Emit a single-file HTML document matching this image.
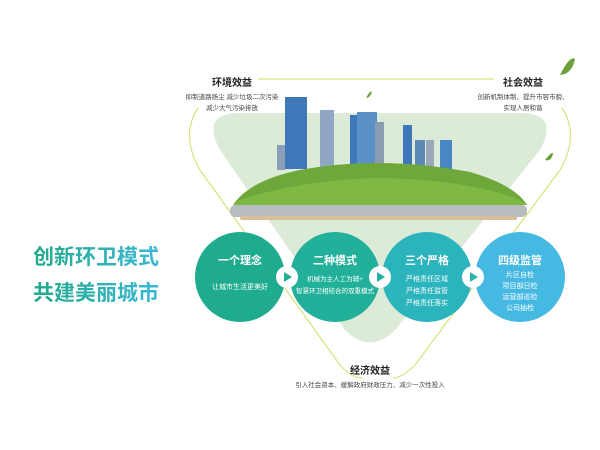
<!DOCTYPE html>
<html><head><meta charset="utf-8"><style>
body{margin:0;width:600px;height:450px;background:#fff;overflow:hidden;font-family:"Liberation Sans","Noto Sans CJK SC",sans-serif;position:relative}
.t{position:absolute;text-align:center;white-space:nowrap}
.c{position:absolute;width:90px;height:90px;border-radius:50%;color:#fff;text-align:center}
.c b{display:block;margin-top:20px;font-size:11px}
.c p{margin:6px 0 0;font-size:7px;line-height:12px;white-space:nowrap}
.big{position:absolute;left:33px;font-size:21px;font-weight:bold;background:linear-gradient(90deg,#22a98a,#3bb8d8);-webkit-background-clip:text;color:transparent;letter-spacing:0}
</style></head><body>
<svg width="600" height="450" style="position:absolute;left:0;top:0">
<path d="M240,113 L520,113 Q560,113 540,150 L395,330 Q370,355 345,330 L220,150 Q200,113 240,113Z" fill="#dcebd8"/>
<line x1="258" y1="79" x2="494" y2="79" stroke="#d5e47a" stroke-width="1.2"/>
<path d="M198,108 Q180,135 200,170 L340,365 Q352,378 362,378" fill="none" stroke="#d5e47a" stroke-width="1.2"/>
<path d="M562,108 Q580,135 560,170 L415,365 Q402,378 393,378" fill="none" stroke="#d5e47a" stroke-width="1.2"/>
<g fill="#3f78b8">
<rect x="285" y="97" width="22" height="72"/><rect x="320" y="110" width="14" height="60" fill="#8fa6c4"/>
<rect x="350" y="115" width="8" height="55"/><rect x="357" y="112" width="20" height="58" fill="#5a90c8"/>
<rect x="375" y="122" width="9" height="48" fill="#8a9cb0"/><rect x="403" y="125" width="9" height="45"/>
<rect x="415" y="140" width="10" height="30" fill="#5b88b4"/><rect x="426" y="140" width="8" height="30" fill="#9aa8b8"/>
<rect x="440" y="140" width="12" height="30" fill="#4a86c4"/><rect x="277" y="145" width="8" height="25" fill="#8aa0b8"/>
</g>
<path d="M233,205 Q250,180 300,170 Q380,155 470,172 Q515,185 527,205Z" fill="#6fa83a"/>
<path d="M240,200 Q300,180 380,178 Q470,180 520,200 L527,205 L233,205Z" fill="#7fb843"/>
<rect x="230" y="205" width="297" height="12" rx="5" fill="#b8bcbe"/>
<rect x="240" y="216" width="277" height="4" rx="2" fill="#d8bf9a"/>
<path d="M560,75 q10,-20 15,-16 q-3,15 -15,16z" fill="#6ca03a"/>
<path d="M545,160 q8,-10 8,-6 q-2,8 -8,6z" fill="#6ca03a"/>
<path d="M366,98 q4,-8 6,-6 q-2,6 -6,6z" fill="#6ca03a"/>
</svg>
<div class="t" style="left:202px;top:74px;width:60px;font-size:10px;font-weight:bold;color:#222">环境效益</div>
<div class="t" style="left:182px;top:92px;width:100px;font-size:6.5px;line-height:11px;color:#444">抑制道路扬尘 减少垃圾二次污染<br>减少大气污染排放</div>
<div class="t" style="left:493px;top:74px;width:60px;font-size:10px;font-weight:bold;color:#222">社会效益</div>
<div class="t" style="left:473px;top:92px;width:100px;font-size:6.5px;line-height:11px;color:#444">创新机制体制、提升市容市貌、<br>实现人居和谐</div>
<div class="big" style="top:241px">创新环卫模式</div>
<div class="big" style="top:277px">共建美丽城市</div>
<div class="c" style="left:195px;top:232px;background:#1fac8e"><b>一个理念</b><p style="margin-top:14px">让城市生活更美好</p></div>
<div class="c" style="left:290px;top:232px;background:#22b09a"><b>二种模式</b><p style="font-size:6.5px">机械为主人工为辅+<br>智慧环卫相结合的双重模式</p></div>
<div class="c" style="left:382px;top:232px;background:#2cb4bd"><b>三个严格</b><p>严格责任区域<br>严格责任监管<br>严格责任落实</p></div>
<div class="c" style="left:475px;top:232px;background:#45b9e2"><b style="margin-top:20px">四级监管</b><p style="margin-top:2px;line-height:11px">片区自检<br>项目部日检<br>运营部巡检<br>公司抽检</p></div>
<svg width="600" height="450" style="position:absolute;left:0;top:0">
<g><circle cx="287" cy="277" r="11" fill="#fff"/><path d="M284,272 L292,277 L284,282Z" fill="#22ad90"/>
<circle cx="380" cy="277" r="11" fill="#fff"/><path d="M377,272 L385,277 L377,282Z" fill="#26b0a5"/>
<circle cx="473" cy="277" r="11" fill="#fff"/><path d="M470,272 L478,277 L470,282Z" fill="#2eb3b0"/></g>
</svg>
<div class="t" style="left:340px;top:362px;width:60px;font-size:10px;font-weight:bold;color:#222">经济效益</div>
<div class="t" style="left:270px;top:379px;width:200px;font-size:6.5px;color:#444">引入社会资本、缓解政府财政压力、减少一次性投入</div>
</body></html>
